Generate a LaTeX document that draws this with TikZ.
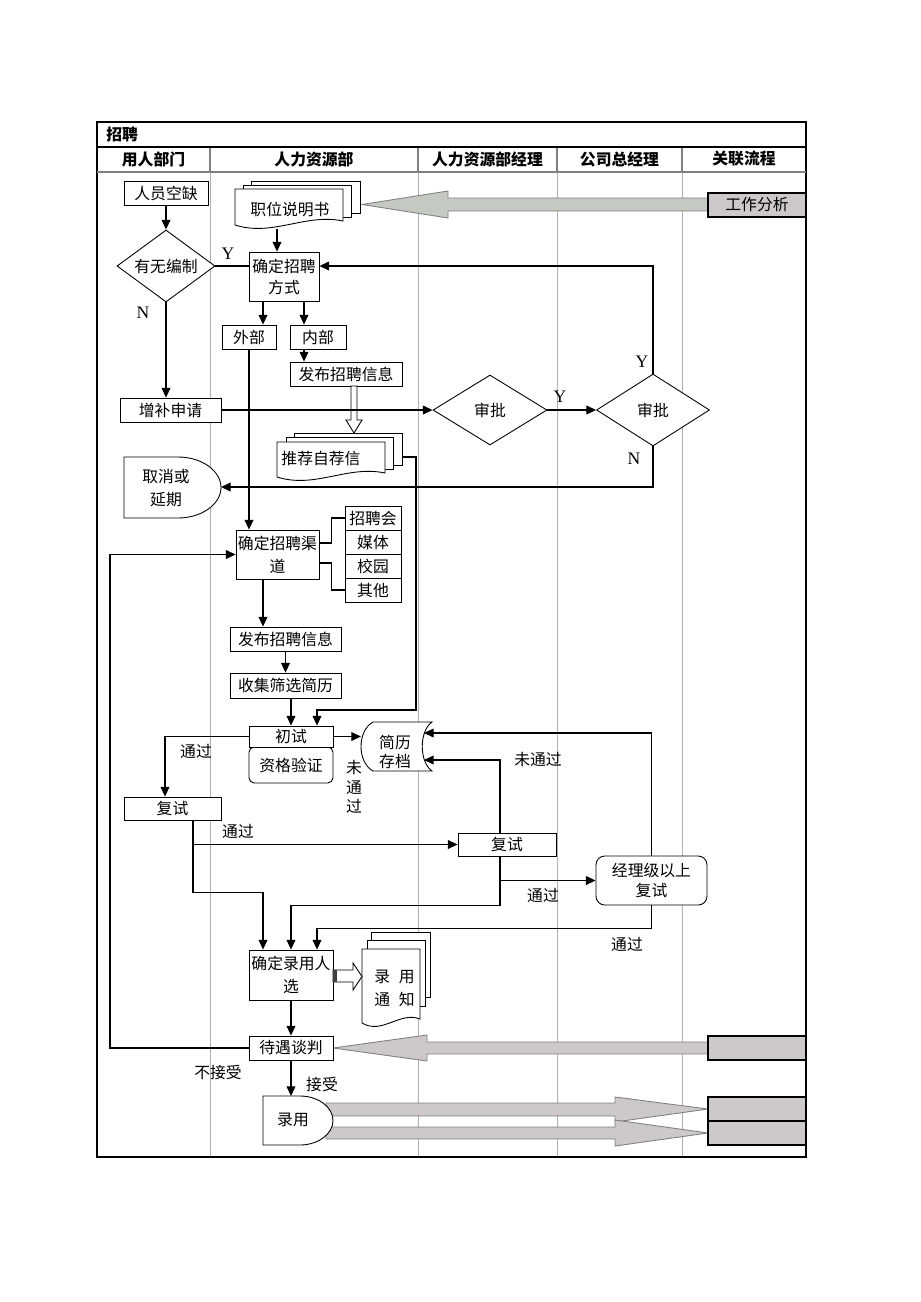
\documentclass[tikz,border=0pt]{standalone}
\usepackage{fontspec}
\setmainfont{Noto Sans CJK SC}
\newfontfamily\yn{Liberation Serif}
\usetikzlibrary{arrows.meta,shapes.geometric}
\definecolor{lanegray}{RGB}{185,172,185}
\definecolor{relfill}{RGB}{204,200,204}
\definecolor{workfill}{RGB}{196,202,194}
\tikzset{
  txt/.style={font=\fontsize{9}{11}\selectfont, inner sep=0pt},
  head/.style={txt, font=\fontsize{9}{11}\selectfont\bfseries},
  box/.style={txt, draw, fill=white, line width=0.5pt, align=center},
  sz/.style 2 args={minimum width=#1*0.02cm, minimum height=#2*0.02cm},
  dia/.style={box, diamond, shape aspect=1.4},
  arr/.style={line width=0.6pt, -{Triangle[length=5.5pt,width=5pt]}},
  con/.style={line width=0.6pt},
  hollow/.style={draw, fill=white, line width=0.5pt},
  fatarr/.style={fill=relfill, draw=gray, line width=0.5pt},
  relbox/.style={txt, draw, fill=relfill, line width=0.6pt},
  sheet/.style={draw, fill=white, line width=0.5pt},
  ynlab/.style={txt, font=\yn\fontsize{10}{12}\selectfont},
}
% one document sheet: (left,top)(right,bottom-left)
\def\docsheet(#1,#2)(#3,#4){\draw[sheet] (#1,#4) -- (#1,#2) -- (#3,#2) -- (#3,#4-4) .. controls ({#1+0.65*(#3-#1)},{#4-12}) and ({#1+0.35*(#3-#1)},{#4+12}) .. (#1,#4) -- cycle;}

\begin{document}
\begin{tikzpicture}[x=0.02cm,y=-0.02cm]
			%%%%% START %%%%%
			\useasboundingbox (0,0) rectangle (920,1302);
			
			% lanes and table
			\foreach \x in {210,418,557,682} \draw[lanegray, line width=0.4pt] (\x,172) -- (\x,1157);
			\foreach \x in {210,418,557,682} \draw[gray, line width=0.6pt] (\x,147) -- (\x,172);
			\draw[line width=0.6pt] (97,122) rectangle (806,1157);
			\draw[line width=0.6pt] (97,147) -- (806,147);
			\draw[gray, line width=0.6pt] (97,172) -- (806,172);
			\node[head, anchor=west] (title) at (106,134) {招聘};
			\node[head] (lane1) at (153.5,159) {用人部门};
			\node[head] (lane2) at (314,159) {人力资源部};
			\node[head] (lane3) at (487.5,159) {人力资源部经理};
			\node[head] (lane4) at (619.5,159) {公司总经理};
			\node[head] (lane5) at (744,159) {关联流程};
			
			% related processes
			\draw[fatarr, fill=workfill] (708,198) -- (448,198) -- (448,191) -- (362,204.5) -- (448,218) -- (448,211) -- (708,211) -- cycle;
			\draw[fatarr] (708,1042) -- (427,1042) -- (427,1035) -- (333,1048) -- (427,1061) -- (427,1054) -- (708,1054) -- cycle;
			\draw[fatarr] (326,1103) -- (615,1103) -- (615,1097) -- (708,1109) -- (615,1122) -- (615,1116) -- (326,1116) -- cycle;
			\draw[fatarr] (326,1127) -- (615,1127) -- (615,1120) -- (708,1133) -- (615,1146) -- (615,1139) -- (326,1139) -- cycle;
			\node[relbox, sz={98}{24}] (work) at (757,205) {工作分析};
			\node[relbox, sz={98}{24}] (rel2) at (757,1048) {};
			\node[relbox, sz={98}{24}] (rel3) at (757,1109) {};
			\node[relbox, sz={98}{24}] (rel4) at (757,1133) {};
			
			% top part
			\node[box, sz={84}{24}] (vacant) at (166,193) {人员空缺};
			\node[dia, sz={98}{72}] (quota) at (166,266) {有无编制};
			\draw[sheet] (251,181) rectangle (360,213);
			\draw[sheet] (243,185) rectangle (351,217);
			\docsheet(235,189)(343,225)
			\node[txt] (jobdesc) at (290,209) {职位说明书};
			\coordinate (jdbot) at (277,229);
			\node[box, sz={70}{49}, font=\fontsize{9}{12}\selectfont] (mode) at (284,276.5) {确定招聘\\方式};
			\node[box, sz={54}{24}] (ext) at (249,337) {外部};
			\node[box, sz={56}{24}] (int) at (318,337) {内部};
			\node[box, sz={112}{24}] (post1) at (346,374) {发布招聘信息};
			\node[box, sz={101}{24}] (supp) at (170.5,410) {增补申请};
			\node[dia, sz={114}{70}] (appr1) at (490,410) {审批};
			\node[dia, sz={113}{72}] (appr2) at (653,410) {审批};
			
			\draw[fill=white, line width=0.5pt] (124,457) -- (178,457) .. controls (202,457) and (221,471) .. (221,487.5) .. controls (221,504) and (202,518) .. (178,518) -- (124,518) -- cycle;
			\node[txt, align=center, font=\fontsize{9}{13}\selectfont] (cancel) at (166,488) {取消或\\延期};
			\coordinate (cancelR) at (221,487);
			
			\draw[sheet] (294,433) rectangle (402,465);
			\draw[sheet] (286,437) rectangle (393,469);
			\docsheet(277,442)(385,477)
			\node[txt] (refer) at (321,458) {推荐自荐信};
			\coordinate (referR) at (402,457);
			\draw[hollow] (351,386) -- (351,420) -- (346,420) -- (354,433) -- (362,420) -- (357,420) -- (357,386) -- cycle;
			
			% channels
			\node[box, sz={83}{49}, font=\fontsize{9}{13}\selectfont] (channel) at (277.5,554.5) {确定招聘渠\\道};
			\foreach \t [count=\i] in {招聘会,媒体,校园,其他}
				\node[box, sz={56}{24}] (ch\i) at (373,{494+24*\i}) {\t};
			\node[box, sz={111}{24}] (post2) at (285.5,639) {发布招聘信息};
			\node[box, sz={111}{25}] (collect) at (285.5,685.5) {收集筛选简历};
			
			% interviews
			\node[box, rounded corners=3pt, sz={84}{36}] (qualify) at (291,765) {资格验证};
			\node[box, sz={84}{21}] (first) at (291,736.5) {初试};
			\draw[fill=white, line width=0.5pt] (373,722) -- (432,722) .. controls (419,731) and (419,762) .. (432,771) -- (373,771) .. controls (357,762) and (357,731) .. (373,722) -- cycle;
			\node[txt, align=center] (archive) at (395,752) {简历\\存档};
			\coordinate (archL) at (361,737);
			\coordinate (arcR1) at (424,733);
			\coordinate (arcR2) at (424,760);
			\node[box, sz={97}{23}] (retest1) at (172.5,808.5) {复试};
			\node[box, sz={98}{23}] (retest2) at (507,844.5) {复试};
			\node[box, rounded corners=5pt, sz={111}{49}] (mgr) at (651.5,880.5) {经理级以上\\复试};
			
			% hiring
			\node[box, sz={84}{50}, font=\fontsize{9}{13.5}\selectfont] (hire) at (291,975) {确定录用人\\选};
			\draw[sheet] (371,932) rectangle (430,997);
			\draw[sheet] (367,940) rectangle (425,1006);
			\docsheet(362,949)(420,1023)
			\node[txt, align=center, font=\fontsize{9}{13}\selectfont] (notice) at (394.5,988) {录\hspace{5pt}用\\通\hspace{5pt}知};
			\draw[hollow] (333,970) -- (353,970) -- (353,963) -- (362,976.5) -- (353,990) -- (353,982) -- (333,982) -- cycle;
			\fill[black!75] (333,970) rectangle (337,982);
			\node[box, sz={84}{24}] (negot) at (291,1048) {待遇谈判};
			\draw[fill=white, line width=0.5pt] (263,1096) -- (300,1096) .. controls (318,1096) and (333,1107) .. (333,1120.5) .. controls (333,1134) and (318,1145) .. (300,1145) -- (263,1145) -- cycle;
			\node[txt] (admit) at (293,1120) {录用};
			\coordinate (admitTop) at (291,1096);
			
			% labels
			\node[ynlab] (ylab1) at (228,254) {Y};
			\node[ynlab] (nlab1) at (143,313) {N};
			\node[ynlab] (ylab2) at (560,397) {Y};
			\node[ynlab] (ylab3) at (642,362) {Y};
			\node[ynlab] (nlab2) at (634,459) {N};
			\node[txt] (pass1) at (196,751) {通过};
			\node[txt, align=center] (fail1) at (354,787) {未\\通\\过};
			\node[txt] (pass2) at (238,831) {通过};
			\node[txt] (fail2) at (538,759) {未通过};
			\node[txt] (pass3) at (543,895) {通过};
			\node[txt] (pass4) at (627,944) {通过};
			\node[txt] (refuse) at (218,1072) {不接受};
			\node[txt] (accept) at (322,1084) {接受};
			
			% connectors
			\draw[arr] (vacant) -- (quota);
			\draw[arr] (quota.south) -- (quota.south |- supp.north);
			\draw[con] (quota.east) -- (quota.east -| mode.west);
			\draw[arr] (jdbot) -- (jdbot |- mode.north);
			\draw[arr] ([xshift=-0.42cm]mode.south) -- ([xshift=-0.42cm]mode.south |- ext.north);
			\draw[arr] ([xshift=0.4cm]mode.south) -- ([xshift=0.4cm]mode.south |- int.north);
			\draw[arr] ([xshift=-0.28cm]int.south) -- ([xshift=-0.28cm]int.south |- post1.north);
			\draw[arr] (ext.south) -- (ext.south |- channel.north);
			\draw[arr] (supp) -- (appr1);
			\draw[arr] (appr1) -- (appr2);
			\draw[arr] (appr2.north) -- (appr2.north |- quota.east) -- (quota.east -| mode.east);
			\draw[arr] (appr2.south) |- (cancelR);
			\draw[arr] (referR) -| (416,710) -| ([xshift=0.52cm]first.north);
			\draw[con] ([yshift=0.23cm]channel.east) -- ++(12,0) |- (ch1.west);
			\draw[con] ([yshift=-0.17cm]channel.east) -- ++(12,0) |- (ch4.west);
			\draw[arr] (negot.west) -- (110,1048) |- (channel.west);
			\draw[arr] ([xshift=-0.29cm]channel.south) -- ([xshift=-0.29cm]channel.south |- post2.north);
			\draw[arr] (post2) -- (collect);
			\draw[arr] (collect.south -| first.north) -- (first.north);
			\draw[arr] (first.east) -- (first.east -| archL);
			\draw[arr] (first.west) -| ([xshift=-0.15cm]retest1.north);
			\draw[arr] ([xshift=0.41cm]retest1.south) -- ++(0,72) -| ([xshift=-0.56cm]hire.north);
			\draw[arr] ([xshift=0.41cm]retest1.south |- retest2.west) -- (retest2.west);
			\draw[arr] ([xshift=-0.14cm]retest2.north) |- (arcR2);
			\draw[arr] ([xshift=-0.14cm]retest2.south) -- ++(0,49) -| (hire.north);
			\draw[arr] ([xshift=-0.14cm]retest2.south |- mgr.west) -- (mgr.west);
			\draw[arr] (mgr.north) |- (arcR1);
			\draw[arr] (mgr.south) -- ++(0,23) -| ([xshift=0.52cm]hire.north);
			\draw[arr] (hire) -- (negot);
			\draw[arr] (negot.south) -- (admitTop);
			%%%%% END %%%%%
\end{tikzpicture}
\end{document}
